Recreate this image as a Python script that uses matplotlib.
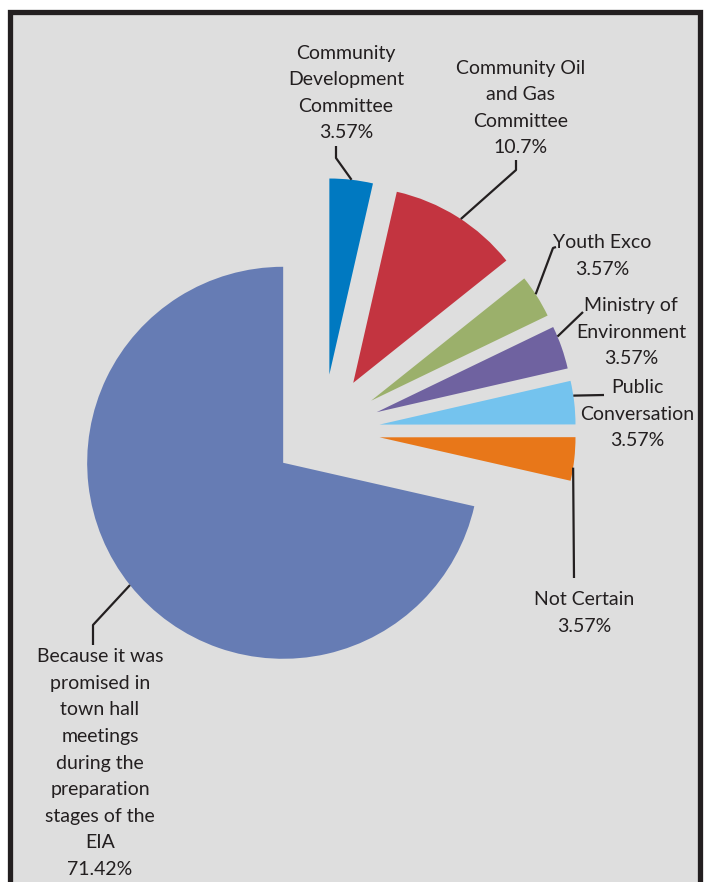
import numpy as np
import matplotlib.pyplot as plt
from matplotlib.patches import Rectangle

# canvas size in pixels (dpi 100)
W, H = 704, 882

# data
labels = ["Community\nDevelopment\nCommittee",
          "Community Oil\nand Gas\nCommittee",
          "Youth Exco",
          "Ministry of\nEnvironment",
          "Public\nConversation",
          "Not Certain",
          "Because it was\npromised in\ntown hall\nmeetings\nduring the\npreparation\nstages of the\nEIA"]
pct_text = ["3.57%", "10.7%", "3.57%", "3.57%", "3.57%", "3.57%", "71.42%"]
values = [3.57, 10.7, 3.57, 3.57, 3.57, 3.57, 71.42]
colors = ["#0079c1", "#c33440", "#9bb06b", "#6f62a0", "#74c3ee", "#e87719", "#667cb4"]
explode = [0.29, 0.29, 0.29, 0.29, 0.29, 0.29, 0.26]  # fraction of radius

# layout (pixel coords from top-left)
R = 196
text_xy = [(346, 93), (521, 108), (602, 256), (631, 332), (637, 414), (584, 613), (100, 763)]
leader_pts = [[(336, 146), (336, 158)], [(516, 160), (516, 170)], [(556, 247), (553, 248)],
              [(583, 312)], [(604, 395)], [(574, 578)], [(93, 645), (93, 625)]]
anchor_deg = [83.5, 56.7, 32.9, 22.7, 8.5, -8.9, 218.6]
ink = "#231f20"


def px(p):
    return p[0], H - p[1]


fig = plt.figure(figsize=(W / 100, H / 100), dpi=100, facecolor="white")
ax = fig.add_axes([0, 0, 1, 1])

# explode is in data units, so scale by radius
wedges, _ = ax.pie(values, colors=colors, explode=[e * R for e in explode], startangle=90,
                   counterclock=False, radius=R, center=(323, H - 431),
                   wedgeprops=dict(linewidth=0))
ax.set_xlim(0, W)
ax.set_ylim(0, H)
ax.set_aspect("auto")
ax.axis("off")

# grey panel with dark frame (no bottom edge visible)
ax.add_patch(Rectangle((10, -30), 690, H - 12 + 30, facecolor="#dedede",
                       edgecolor=ink, lw=3.8, zorder=0))

for w, lab, pt, xy, pts, a in zip(wedges, labels, pct_text, text_xy, leader_pts, anchor_deg):
    cx, cy = w.center
    ang = np.deg2rad(a)
    anchor = (cx + w.r * np.cos(ang), cy + w.r * np.sin(ang))
    xs = [px(p)[0] for p in pts] + [anchor[0]]
    ys = [px(p)[1] for p in pts] + [anchor[1]]
    ax.plot(xs, ys, color=ink, lw=1.6, solid_capstyle="butt", zorder=3)
    tx, ty = px(xy)
    ax.text(tx, ty, lab + "\n" + pt, ha="center", va="center", ma="center",
            fontsize=14, family=["Lato", "DejaVu Sans"], color=ink,
            linespacing=1.68, zorder=4)

fig.savefig("out.png", dpi=100, facecolor="white")
